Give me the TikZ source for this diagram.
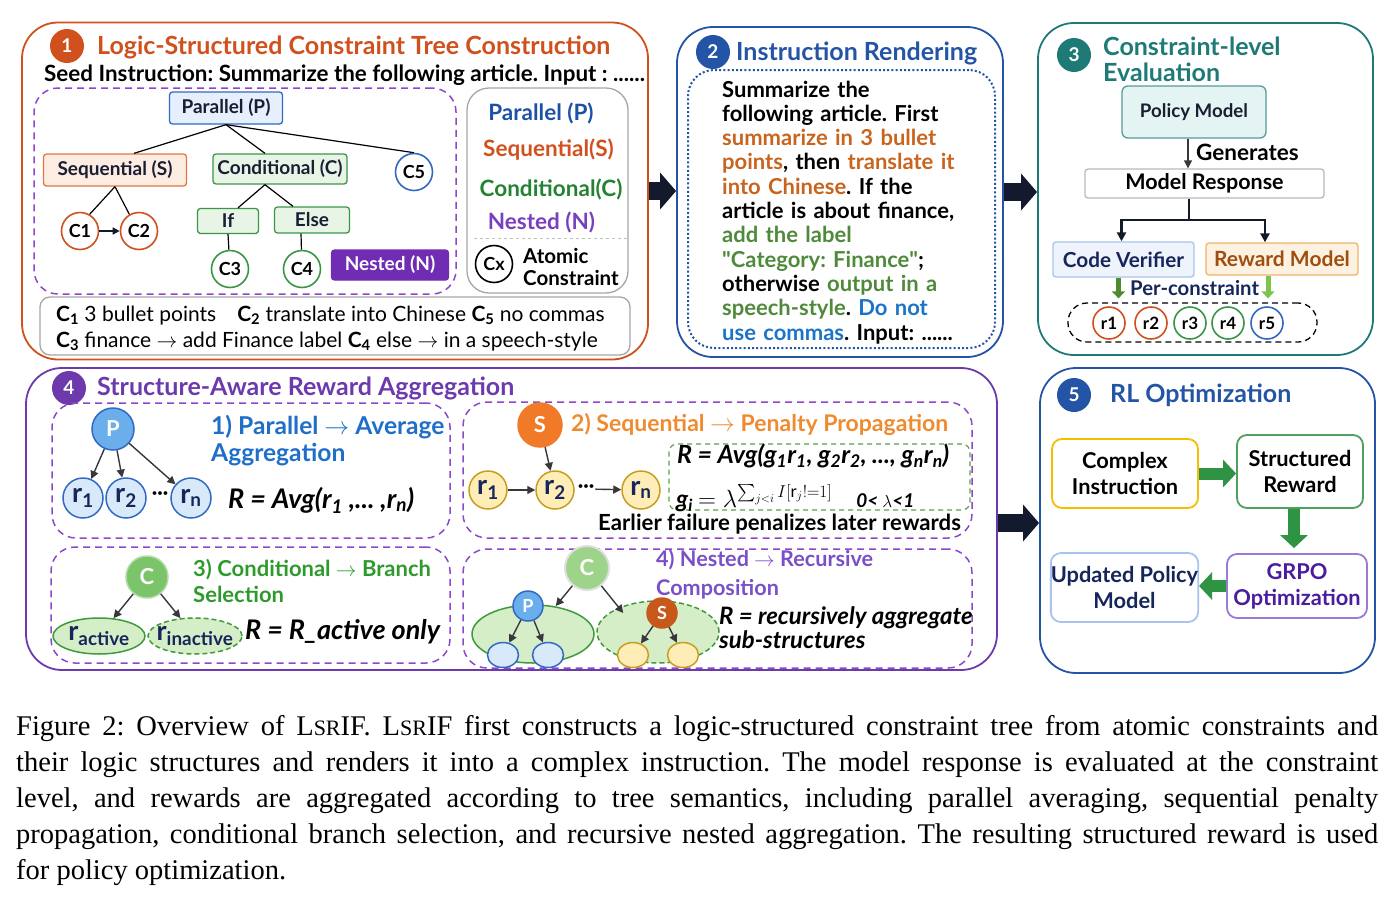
\documentclass[tikz,border=0pt]{standalone}
\usepackage{amsmath}
\usepackage{fontspec}
\setmainfont{Lato}
\newfontfamily\capfont{Liberation Serif}
\usetikzlibrary{arrows.meta, positioning, calc, shapes.geometric}
\definecolor{orangeA}{RGB}{208, 80, 30}
\definecolor{blueB}{RGB}{36, 84, 165}
\definecolor{tealC}{RGB}{30, 122, 118}
\definecolor{purpleD}{RGB}{108, 58, 172}
\definecolor{blueE}{RGB}{36, 84, 165}
\definecolor{textdark}{RGB}{25, 30, 50}
\definecolor{navy}{RGB}{22, 38, 90}
\definecolor{arrowdark}{RGB}{20, 26, 45}
\definecolor{arrowgray}{RGB}{55, 55, 60}
\definecolor{dashpurple}{RGB}{140, 72, 200}
\definecolor{pblue}{RGB}{50, 105, 195}
\definecolor{pfill}{RGB}{230, 239, 252}
\definecolor{sorange}{RGB}{226, 118, 62}
\definecolor{sfill}{RGB}{253, 236, 226}
\definecolor{cgreen}{RGB}{58, 150, 70}
\definecolor{cfill}{RGB}{232, 245, 230}
\definecolor{nestpurple}{RGB}{112, 44, 178}
\definecolor{legblue}{RGB}{30, 80, 165}
\definecolor{leggreen}{RGB}{36, 130, 50}
\definecolor{legpurple}{RGB}{120, 64, 190}
\definecolor{txtorange}{RGB}{200, 100, 30}
\definecolor{txtgreen}{RGB}{78, 138, 58}
\definecolor{txtblue}{RGB}{26, 116, 200}
\definecolor{pmfill}{RGB}{228, 244, 243}
\definecolor{cvfill}{RGB}{238, 243, 252}
\definecolor{cvline}{RGB}{168, 196, 236}
\definecolor{rmfill}{RGB}{253, 242, 226}
\definecolor{rmline}{RGB}{236, 182, 106}
\definecolor{rmtext}{RGB}{160, 78, 16}
\definecolor{dgreen}{RGB}{78, 138, 46}
\definecolor{lgreen}{RGB}{124, 196, 76}
\definecolor{circblue}{RGB}{106, 174, 236}
\definecolor{lightblue}{RGB}{216, 234, 250}
\definecolor{sfillorange}{RGB}{240, 122, 40}
\definecolor{ylwfill}{RGB}{255, 237, 184}
\definecolor{ylwline}{RGB}{200, 158, 30}
\definecolor{cfillgreen}{RGB}{124, 196, 106}
\definecolor{ellfill}{RGB}{214, 238, 200}
\definecolor{ellline}{RGB}{62, 154, 58}
\definecolor{nestc}{RGB}{158, 211, 138}
\definecolor{sdark}{RGB}{200, 88, 26}
\definecolor{subblue}{RGB}{31, 111, 200}
\definecolor{suborange}{RGB}{240, 138, 46}
\definecolor{subgreen}{RGB}{46, 154, 46}
\definecolor{subpurple}{RGB}{122, 80, 200}
\definecolor{yellowF}{RGB}{245, 190, 0}
\definecolor{greenF}{RGB}{78, 160, 90}
\definecolor{blockgreen}{RGB}{46, 148, 68}
\definecolor{purpleF}{RGB}{154, 122, 214}
\definecolor{grpotext}{RGB}{74, 28, 158}
\definecolor{formgreen}{RGB}{90, 160, 70}
\newcommand{\fsz}[2]{\fontsize{#1}{#2}\selectfont}
\newcommand{\cid}[1]{\textbf{C\textsubscript{#1}}}
\newcommand{\rsub}[1]{r\textsubscript{#1}}

\begin{document}
\frenchspacing
\begin{tikzpicture}[x=1pt, y=-1pt,
    panel/.style={draw, rounded corners=36pt, line width=1.8pt},
    badge/.style={circle, inner sep=0pt, minimum size=34pt, text=white, font=\fsz{19}{19}\bfseries},
    heading/.style={anchor=west, inner sep=0pt, font=\fsz{25}{26}\bfseries},
    plain/.style={anchor=west, inner sep=0pt, font=\fsz{22}{24}\bfseries},
    tbox/.style={rectangle, rounded corners=3pt, line width=1.3pt, inner sep=0pt, font=\fsz{19}{19}\bfseries, text=textdark},
    cnode/.style={circle, draw, line width=1.6pt, fill=white, inner sep=0pt, minimum size=37pt, font=\fsz{18}{18}\bfseries},
    legtext/.style={font=\fsz{22.5}{22.5}\bfseries},
    subbox/.style={draw=dashpurple, dash pattern=on 7pt off 5pt, rounded corners=24pt, line width=1.5pt},
    rnode/.style={circle, line width=1.5pt, minimum size=40pt, inner sep=0pt, text=navy, font=\fsz{27}{27}\bfseries},
    bignode/.style={circle, line width=1.5pt, inner sep=0pt, text=white, font=\fsz{22}{22}\bfseries},
    ellshape/.style={ellipse, fill=ellfill, draw=ellline, line width=1.5pt, inner sep=0pt},
    leaf/.style={ellipse, line width=1.5pt, inner sep=0pt, minimum width=31pt, minimum height=25pt},
    stage/.style={rectangle, rounded corners=10pt, line width=1.8pt, fill=white, align=center, inner sep=0pt, font=\fsz{21.8}{26}\bfseries},
    formula/.style={anchor=west, inner sep=0pt, font=\fsz{27}{27}\bfseries\itshape},
    treeline/.style={line width=1.2pt},
    tarr/.style={-{Triangle[length=8pt,width=8pt]}, line width=1.4pt, draw=arrowgray},
    bigarr/.style={-{Triangle[length=16pt,width=36pt]}, line width=18pt, draw=arrowdark},
    fatarr/.style={-{Triangle[length=13pt,width=27pt]}, line width=12pt, draw=blockgreen}
]
    \useasboundingbox (0,0) rectangle (1393,900);

    \node[panel, draw=orangeA, minimum width=626pt, minimum height=337pt] (panelA) at (335,191) {};
    \node[badge, fill=orangeA] (badgeA) at (67,46) {1};
    \node[heading, text=orangeA] (titleA) at (97,47) {Logic-Structured Constraint Tree Construction};
    \node[plain, font=\fsz{22.4}{24}\bfseries] (seed) at (44,75) {Seed Instruction: Summarize the following article. Input : ......};

    \node[subbox, minimum width=422pt, minimum height=206pt] (treebox) at (245,191) {};
    \node[tbox, fill=pfill, draw=pblue, minimum width=113pt, minimum height=32pt] (par) at (226,108) {Parallel (P)};
    \node[tbox, fill=sfill, draw=sorange, minimum width=143pt, minimum height=32pt] (seq) at (115,170) {Sequential (S)};
    \node[tbox, fill=cfill, draw=cgreen, minimum width=134pt, minimum height=30pt] (cond) at (280,169) {Conditional (C)};
    \node[cnode, draw=pblue] (c5) at (414,172) {C5};
    \node[tbox, fill=cfill, draw=cgreen, minimum width=61pt, minimum height=25pt] (ifb) at (228,221) {If};
    \node[tbox, fill=cfill, draw=cgreen, minimum width=75pt, minimum height=26pt] (elseb) at (312,220) {Else};
    \node[cnode, draw=orangeA] (c1) at (80,231) {C1};
    \node[cnode, draw=orangeA] (c2) at (139,231) {C2};
    \node[cnode, draw=cgreen] (c3) at (230,269) {C3};
    \node[cnode, draw=cgreen] (c4) at (302,269) {C4};
    \node[tbox, fill=nestpurple, draw=nestpurple, text=white, minimum width=117pt, minimum height=30pt] (nest) at (390,265) {Nested (N)};

    \draw[treeline] (par.south) -- ([xshift=19pt]seq.north);
    \draw[treeline] (par.south) -- ([xshift=-15pt]cond.north);
    \draw[treeline] (par.south) -- (c5.north);
    \draw[treeline] (seq.south) -- (c1.60);
    \draw[treeline] (seq.south) -- (c2.120);
    \draw[treeline] ([xshift=-15pt]cond.south) -- ([xshift=10pt]ifb.north);
    \draw[treeline] ([xshift=-15pt]cond.south) -- ([xshift=-19pt]elseb.north);
    \draw[treeline] (ifb.south) -- (c3);
    \draw[treeline] ([xshift=-11pt]elseb.south) -- (c4);
    \draw[-{Triangle[length=7pt,width=7pt]}, line width=1.6pt, draw=arrowdark] (c1) -- (c2);

    \node[draw=gray!70, rounded corners=22pt, line width=1.3pt, minimum width=161pt, minimum height=205pt] (legend) at (547.5,190.5) {};
    \node[legtext, text=legblue] (legP) at (541,113) {Parallel (P)};
    \node[legtext, text=orangeA] (legS) at (548.5,150) {Sequential(S)};
    \node[legtext, text=leggreen] (legC) at (551,189) {Conditional(C)};
    \node[legtext, text=legpurple] (legN) at (541.5,222) {Nested (N)};
    \draw[gray!50, dashed, line width=1pt] ([xshift=8pt, yshift=-47.5pt]legend.west) -- ([yshift=-47.5pt]legend.east);
    \node[cnode, draw=black] (cx) at (494,264) {Cx};
    \node[anchor=west, align=left, inner sep=0pt, font=\fsz{20.5}{22}\bfseries] (atomic) at (523,267) {Atomic\\Constraint};

    \node[draw=gray!70, rounded corners=10pt, line width=1.3pt, minimum width=590pt, minimum height=58pt] (cbox) at (335,326) {};
    \node[anchor=west, align=left, inner sep=0pt, font=\fsz{21}{26}] (ctext) at (56,328.5) {\cid{1} 3 bullet points\quad \cid{2} translate into Chinese \cid{5} no commas\\\cid{3} finance $\to$ add Finance label \cid{4} else $\to$ in a speech-style};

    \node[panel, draw=blueB, minimum width=326pt, minimum height=330pt] (panelB) at (840,192) {};
    \node[badge, fill=blueB] (badgeB) at (713,52) {2};
    \node[heading, text=blueB] (titleB) at (736,53) {Instruction Rendering};
    \node[draw=blueB, dash pattern=on 2pt off 2.2pt, line width=2pt, rounded corners=26pt, minimum width=307pt, minimum height=278pt] (renderbox) at (841.5,209) {};
    \node[anchor=base west, text width=272pt, align=left, inner sep=0pt, font=\fsz{22}{24.3}\bfseries] (render) at (722,97) {Summarize the\\
        following article. First\\
        \textcolor{txtorange}{summarize in 3 bullet}\\
        \textcolor{txtorange}{points}, then \textcolor{txtorange}{translate it}\\
        \textcolor{txtorange}{into Chinese}. If the\\
        article is about finance,\\
        \textcolor{txtgreen}{add the label}\\
        \textcolor{txtgreen}{\textquotedbl Category: Finance\textquotedbl};\\
        otherwise \textcolor{txtgreen}{output in a}\\
        \textcolor{txtgreen}{speech-style}. \textcolor{txtblue}{Do not}\\
        \textcolor{txtblue}{use commas}. Input: ......};

    \node[panel, draw=tealC, minimum width=335pt, minimum height=332pt] (panelC) at (1205.5,189) {};
    \node[badge, fill=tealC] (badgeC) at (1074,55) {3};
    \node[heading, text=tealC, align=left] (titleC) at (1103,59.5) {Constraint-level\\Evaluation};
    \node[fill=pmfill, draw=tealC!75, rounded corners=6pt, line width=1.3pt, minimum width=144pt, minimum height=52pt, font=\fsz{18.7}{18.7}\bfseries, text=textdark] (policy) at (1194,112) {Policy Model};
    \node[draw=gray!55, rounded corners=3pt, line width=1.3pt, minimum width=239pt, minimum height=29pt, font=\fsz{21.5}{21.5}\bfseries] (response) at (1204.5,183.5) {Model Response};
    \draw[-{Triangle[length=8pt,width=8pt]}, line width=1.5pt, draw=arrowgray] ([xshift=-6pt]policy.south) -- ([xshift=-6pt]policy.south |- response.north);
    \node[plain, font=\fsz{22.5}{22.5}\bfseries] (gen) at (1196,152) {Generates};
    \node[fill=cvfill, draw=cvline, rounded corners=3pt, line width=1.3pt, minimum width=141pt, minimum height=35pt, font=\fsz{20.7}{20.7}\bfseries, text=navy] (codev) at (1123.5,259.5) {Code Verifier};
    \node[fill=rmfill, draw=rmline, rounded corners=3pt, line width=1.3pt, minimum width=152pt, minimum height=32pt, font=\fsz{21}{21}\bfseries, text=rmtext] (rewardm) at (1282,259) {Reward Model};
    \coordinate (split) at (1189,220);
    \draw[line width=2.2pt, draw=arrowdark] (split |- response.south) -- (split);
    \draw[-{Triangle[length=9pt,width=9pt]}, line width=2.2pt, draw=arrowdark] (split) -| ([xshift=-2pt]codev.north);
    \draw[-{Triangle[length=9pt,width=9pt]}, line width=2.2pt, draw=arrowdark] (split) -| ([xshift=-17pt]rewardm.north);
    \node[draw, dash pattern=on 6pt off 4pt, line width=1.3pt, rounded corners=19pt, minimum width=249pt, minimum height=39pt] (rbag) at (1192.5,322.5) {};
    \draw[-{Triangle[length=7pt,width=13pt]}, line width=5pt, draw=dgreen, shorten >=4pt] ([xshift=-5pt]codev.south) -- ([xshift=-5pt]codev.south |- rbag.north);
    \draw[-{Triangle[length=7pt,width=13pt]}, line width=5pt, draw=lgreen, shorten >=4pt] ([xshift=-14pt]rewardm.south) -- ([xshift=-14pt]rewardm.south |- rbag.north);
    \node[plain, font=\fsz{20.3}{20.3}\bfseries, text=navy] (perc) at (1130,288) {Per-constraint};
    \foreach \x/\n/\col in {1109/1/orangeA, 1151/2/orangeA, 1190/3/cgreen, 1228/4/cgreen, 1267/5/pblue}
        \node[cnode, draw=\col, minimum size=32pt, font=\fsz{17}{17}\bfseries] (r\n) at (\x,323) {r\n};

    \node[panel, draw=purpleD, minimum width=971pt, minimum height=302pt] (panelD) at (511.5,519) {};
    \node[badge, fill=purpleD] (badgeD) at (69,388) {4};
    \node[heading, text=purpleD] (titleD) at (97,388) {Structure-Aware Reward Aggregation};
    \node[subbox, minimum width=398pt, minimum height=135pt] (parbox) at (251,470.5) {};
    \node[subbox, minimum width=509pt, minimum height=136pt] (seqbox) at (717.5,470) {};
    \node[subbox, minimum width=399pt, minimum height=116pt] (condbox) at (250.5,605) {};
    \node[subbox, minimum width=509pt, minimum height=119pt] (nestbox) at (717.5,608.5) {};

    \node[bignode, fill=circblue, draw=pblue, minimum size=42pt] (pA) at (113,429) {P};
    \node[rnode, fill=lightblue, draw=pblue] (pr1) at (83,498) {\rsub{1}};
    \node[rnode, fill=lightblue, draw=pblue] (pr2) at (126,498) {\rsub{2}};
    \node[rnode, fill=lightblue, draw=pblue] (prn) at (191,498) {\rsub{n}};
    \node[inner sep=0pt, font=\fsz{20}{20}\bfseries] (pdots) at (160,496) {···};
    \draw[tarr] (pA) -- (pr1);
    \draw[tarr] (pA) -- (pr2);
    \draw[tarr] (pA) -- (prn);
    \node[anchor=west, align=left, inner sep=0pt, font=\fsz{24.6}{27}\bfseries, text=subblue] (parT) at (211,440.5) {1) Parallel $\to$ Average\\Aggregation};
    \node[formula] (parF) at (228,500) {R = Avg(r\textsubscript{1} ,... ,r\textsubscript{n})};

    \node[bignode, fill=sfillorange, draw=sfillorange, minimum size=44pt] (sA) at (540,425) {S};
    \node[rnode, fill=ylwfill, draw=ylwline, minimum size=38pt] (sr1) at (488,490) {\rsub{1}};
    \node[rnode, fill=ylwfill, draw=ylwline, minimum size=38pt] (sr2) at (555,490) {\rsub{2}};
    \node[rnode, fill=ylwfill, draw=ylwline, minimum size=38pt] (srn) at (641,490) {\rsub{n}};
    \node[inner sep=1pt, font=\fsz{20}{20}\bfseries] (sdots) at (586,489) {···};
    \draw[tarr] (sr1) -- (sr2);
    \draw[tarr] (sdots) -- (srn);
    \draw[tarr] (sA) -- (sr2);
    \node[anchor=west, inner sep=0pt, font=\fsz{23}{23}\bfseries, text=suborange] (seqT) at (571,425) {2) Sequential $\to$ Penalty Propagation};
    \node[draw=formgreen, dash pattern=on 5pt off 4pt, line width=1.2pt, rounded corners=8pt, minimum width=301pt, minimum height=66pt] (formbox) at (819.5,477) {};
    \node[formula, font=\fsz{25}{25}\bfseries\itshape] (seqF) at (677,456) {R = Avg(g\textsubscript{1}r\textsubscript{1}, g\textsubscript{2}r\textsubscript{2}, ..., g\textsubscript{n}r\textsubscript{n})};
    \node[formula, font=\fsz{24}{24}\bfseries\itshape] (gateF) at (676,498) {g\textsubscript{i} $= \lambda^{\sum_{j<i} I[\mathrm{r}_j != 1]}$\quad {\fsz{19}{19}0< $\lambda$<1}};
    \node[plain, font=\fsz{22.2}{22.2}\bfseries] (seqN) at (598,524) {Earlier failure penalizes later rewards};

    \node[bignode, fill=cfillgreen, draw=cfillgreen!60!white, minimum size=42pt] (cA) at (147,577) {C};
    \node[ellshape, minimum width=92pt, minimum height=36pt] (ract) at (99,636) {};
    \node[ellshape, dash pattern=on 5pt off 3pt, minimum width=94pt, minimum height=36pt] (rina) at (195,636) {};
    \node[text=navy, font=\fsz{27}{27}\bfseries] at (ract) {\rsub{active}};
    \node[text=navy, font=\fsz{27}{27}\bfseries] at (rina) {\rsub{inactive}};
    \draw[tarr] (cA) -- (ract);
    \draw[tarr] (cA) -- (rina);
    \node[anchor=west, align=left, inner sep=0pt, font=\fsz{22}{26}\bfseries, text=subgreen] (condT) at (193,581) {3) Conditional $\to$ Branch\\Selection};
    \node[formula] (condF) at (245,632) {R = R\_active only};

    \node[ellshape, minimum width=122pt, minimum height=58pt] (lell) at (533,634) {};
    \node[ellshape, dash pattern=on 5pt off 3pt, minimum width=122pt, minimum height=62pt] (rell) at (658,632) {};
    \node[bignode, fill=nestc, draw=gray!25, line width=2pt, minimum size=44pt] (cN) at (587,568) {C};
    \node[bignode, fill=circblue, draw=pblue, minimum size=30pt, font=\fsz{18}{18}\bfseries] (pN) at (528,606) {P};
    \node[leaf, fill=lightblue, draw=pblue] (pl1) at (503,655) {};
    \node[leaf, fill=lightblue, draw=pblue] (pl2) at (548,655) {};
    \node[bignode, fill=sdark, draw=sdark, minimum size=30pt, font=\fsz{18}{18}\bfseries] (sN) at (662,613) {S};
    \node[leaf, fill=ylwfill, draw=ylwline] (sl1) at (633,655) {};
    \node[leaf, fill=ylwfill, draw=ylwline] (sl2) at (683,655) {};
    \draw[tarr] (cN) -- ([xshift=12pt]pN.east);
    \draw[tarr] (cN) -- ([xshift=-23pt]sN.west);
    \draw[tarr] (pN) -- (pl1);
    \draw[tarr] (pN) -- (pl2);
    \draw[tarr] (sN) -- (sl1);
    \draw[tarr] (sN) -- (sl2);
    \node[anchor=west, align=left, inner sep=0pt, font=\fsz{21.6}{29}\bfseries, text=subpurple] (nestT) at (656,574.5) {4) Nested $\to$ Recursive\\Composition};
    \node[formula, align=left, font=\fsz{24}{24}\bfseries\itshape] (nestF) at (719,628) {R = recursively aggregate\\sub-structures};

    \node[panel, draw=blueE, minimum width=335pt, minimum height=305pt] (panelE) at (1207.5,520.5) {};
    \node[badge, fill=blueE] (badgeE) at (1074,395) {5};
    \node[heading, text=blueE] (titleE) at (1110,395) {RL Optimization};
    \node[stage, draw=yellowF, minimum width=146pt, minimum height=69pt] (cinstr) at (1125,473.5) {Complex\\Instruction};
    \node[stage, draw=greenF, minimum width=126pt, minimum height=73pt] (sreward) at (1300,471.5) {Structured\\Reward};
    \node[stage, draw=purpleF, text=grpotext, minimum width=140pt, minimum height=64pt] (grpo) at (1297,586) {GRPO\\Optimization};
    \node[stage, draw=cvline, text=navy, minimum width=141pt, minimum height=69pt] (upolicy) at (1124.5,587.5) {Updated Policy\\Model};
    \draw[fatarr] (cinstr.east) -- (cinstr.east -| sreward.west);
    \draw[fatarr, shorten >=5pt] ([xshift=-6pt]sreward.south) -- ([xshift=-6pt]sreward.south |- grpo.north);
    \draw[fatarr] (grpo.west) -- (grpo.west -| upolicy.east);

    \draw[bigarr] (panelA.east) -- (panelA.east -| panelB.west);
    \draw[bigarr] (panelB.east) -- (panelB.east -| panelC.west);
    \draw[bigarr] ([yshift=-4pt]panelD.east) -- ([yshift=-4pt]panelD.east -| panelE.west);

    \node[anchor=base west, text width=1362pt, align=justify, inner sep=0pt, font=\capfont\fsz{28.5}{36}] (caption) at (16,735) {\tolerance=10000 \hyphenpenalty=10000 Figure 2: Overview of L{\fsz{22}{36}SR}IF. L{\fsz{22}{36}SR}IF first constructs a logic-structured constraint tree from atomic constraints and\linebreak their logic structures and renders it into a complex instruction. The model response is evaluated at the constraint\linebreak level, and rewards are aggregated according to tree semantics, including parallel averaging, sequential penalty\linebreak propagation, conditional branch selection, and recursive nested aggregation. The resulting structured reward is used\linebreak for policy optimization.};
\end{tikzpicture}
\end{document}
